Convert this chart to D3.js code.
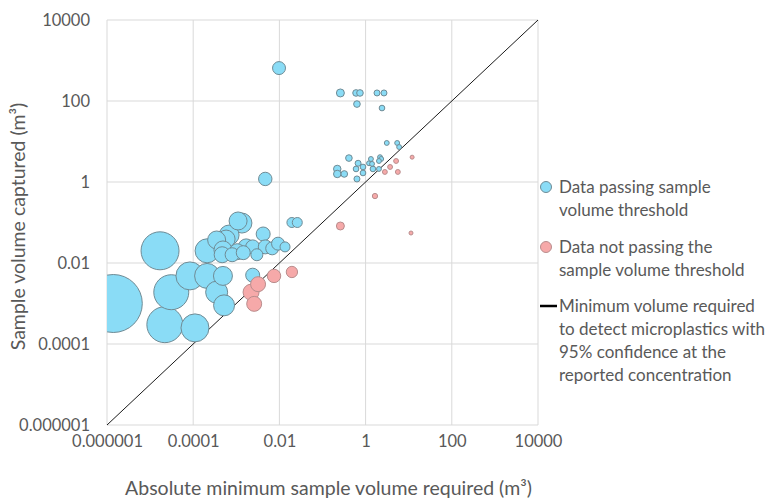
<!DOCTYPE html>
<html>
<head>
<meta charset="utf-8">
<script src="https://cdn.jsdelivr.net/npm/d3@7"></script>
<style>
  body { margin: 0; background: #fff; }
  text { font-family: Lato, "Open Sans", sans-serif; fill: #595959; }
</style>
</head>
<body>
<svg width="767" height="500"></svg>
<script>
// axis ticks (both axes share the same log range)
const tickValues = [1e-6, 1e-4, 1e-2, 1, 100, 1e4];
const tickLabels = ["0.000001", "0.0001", "0.01", "1", "100", "10000"];

// data passing the sample volume threshold
const passRequired = [1.4e-6, 1.7e-5, 3.1e-5, 2.2e-5, 1.1e-4, 8.4e-5, 2.1e-4, 2.1e-4, 4.9e-4, 3.5e-4,
    5.2e-4, 0.0024, 0.00135, 0.0011, 0.00068, 0.00058, 0.00035, 0.00049, 0.0017, 0.00105,
    0.0024, 0.0042, 0.0047, 0.003, 0.0068, 0.0093, 0.0135, 0.0008, 0.00145, 0.00047,
    0.0195, 0.026, 0.0047, 0.0098, 0.26, 0.6, 0.74, 1.84, 2.67, 0.63,
    2.4, 3.1, 5.4, 6, 0.41, 0.22, 0.22, 0.32, 0.63, 0.67,
    0.6, 0.87, 0.87, 1.2, 1.33, 1.41, 1.48, 2.04, 2.16, 2.3, 2.04];
const passCaptured = [0.001, 0.02, 0.0019, 0.0003, 0.00025, 0.0048, 0.0048, 0.02, 0.0048, 0.0019,
    0.0009, 0.005, 0.097, 0.109, 0.049, 0.039, 0.037, 0.021, 0.025, 0.019,
    0.025, 0.052, 0.025, 0.016, 0.023, 0.03, 0.025, 0.016, 0.018, 0.016,
    0.1, 0.1, 1.19, 650, 158, 158, 158, 158, 158, 84,
    67, 9.2, 9.2, 7.3, 3.9, 2.1, 1.58, 1.58, 1.19, 2.9,
    2.1, 2.35, 1.67, 2.9, 3.7, 2.8, 2.1, 2.1, 4.1, 3.7, 3.3];
const passSize = [841, 361, 306, 324, 196, 196, 156, 144, 90, 121,
    110, 49, 100, 81, 100, 81, 81, 81, 64, 64,
    49, 49, 49, 36, 42, 42, 25, 49, 49, 64,
    25, 25, 45, 42, 16, 11, 11, 9, 9, 11,
    8, 6, 6, 6, 11, 14, 14, 11, 9, 9,
    8, 8, 8, 6, 6, 6, 8, 6, 6, 6, 6];

// data not passing the threshold
const failRequired = [0.0032, 0.0022, 0.0026, 0.0075, 0.0195, 0.26, 1.65, 2.8, 3.7, 5.1, 5.6, 12, 11.3];
const failCaptured = [0.003, 0.0019, 0.00098, 0.0048, 0.006, 0.082, 0.45, 1.77, 2.35, 3.3, 1.77, 4.1, 0.055];
const failSize = [56, 64, 56, 45, 32, 16, 7, 6, 6, 6, 6, 4, 4];

const legendLabels = [
    ["Data passing sample", "volume threshold"],
    ["Data not passing the", "sample volume threshold"],
    ["Minimum volume required", "to detect microplastics with", "95% confidence at the", "reported concentration"]
];

let plotLeft = 107, plotRight = 538, plotTop = 20, plotBottom = 425;

var svg = d3.select('svg');

let x = d3.scaleLog().domain([1e-6, 1e4]).range([plotLeft, plotRight]);
let y = d3.scaleLog().domain([1e-6, 1e4]).range([plotBottom, plotTop]);
let r = d3.scaleSqrt().domain([0, 841]).range([0, 29]);

svg.append('defs').append('clipPath')
    .attr('id', 'plotClip')
    .append('rect')
    .attr('x', plotLeft)
    .attr('y', plotTop)
    .attr('width', plotRight - plotLeft)
    .attr('height', plotBottom - plotTop);

// gridlines
svg.append('g').selectAll('line')
    .data(tickValues)
    .enter()
    .append('line')
    .attr('x1', d => x(d)).attr('x2', d => x(d))
    .attr('y1', plotTop).attr('y2', plotBottom)
    .attr('stroke', '#d9d9d9');
svg.append('g').selectAll('line')
    .data(tickValues)
    .enter()
    .append('line')
    .attr('x1', plotLeft).attr('x2', plotRight)
    .attr('y1', d => y(d)).attr('y2', d => y(d))
    .attr('stroke', '#d9d9d9');

// axes (labels only, Excel style)
let xAxis = svg.append('g')
    .attr('transform', `translate(0, ${plotBottom})`)
    .call(d3.axisBottom(x).tickValues(tickValues).tickFormat((d, i) => tickLabels[i]).tickSize(0).tickPadding(10));
let yAxis = svg.append('g')
    .attr('transform', `translate(${plotLeft}, 0)`)
    .call(d3.axisLeft(y).tickValues(tickValues).tickFormat((d, i) => tickLabels[i]).tickSize(0).tickPadding(17));
[xAxis, yAxis].forEach(a => {
    a.select('.domain').remove();
    a.selectAll('text').attr('font-size', 16.5).attr('font-family', 'Lato').attr('fill', '#595959');
});

// 1:1 line
svg.append('line')
    .attr('x1', x(1e-6)).attr('y1', y(1e-6))
    .attr('x2', x(1e4)).attr('y2', y(1e4))
    .attr('stroke', '#1a1a1a')
    .attr('stroke-width', 1);

function bubbles(req, cap, size, fill, stroke) {
    let pts = req.map((d, i) => ({x: d, y: cap[i], s: size[i]}))
        .sort((a, b) => b.s - a.s);
    svg.append('g')
        .attr('clip-path', 'url(#plotClip)')
        .selectAll('circle')
        .data(pts)
        .enter()
        .append('circle')
        .attr('cx', d => x(d.x))
        .attr('cy', d => y(d.y))
        .attr('r', d => r(d.s))
        .attr('fill', fill)
        .attr('stroke', stroke)
        .attr('stroke-width', 1);
}
bubbles(passRequired, passCaptured, passSize, '#8adcf6', '#6f8b95');
bubbles(failRequired, failCaptured, failSize, '#f6a9a9', '#b98d8d');

// axis titles
svg.append('text')
    .attr('x', (plotLeft + plotRight) / 2 + 6)
    .attr('y', 495)
    .attr('text-anchor', 'middle')
    .attr('font-size', 19.5)
    .text('Absolute minimum sample volume required (m³)');
svg.append('text')
    .attr('transform', `translate(25, ${(plotTop + plotBottom) / 2 + 4}) rotate(-90)`)
    .attr('text-anchor', 'middle')
    .attr('font-size', 19.5)
    .text('Sample volume captured (m³)');

// legend
let legend = svg.append('g');
let legendTop = [187, 247, 306];
legend.append('circle').attr('cx', 546).attr('cy', legendTop[0]).attr('r', 5.5)
    .attr('fill', '#8adcf6').attr('stroke', '#6f8b95');
legend.append('circle').attr('cx', 546).attr('cy', legendTop[1]).attr('r', 5.5)
    .attr('fill', '#f6a9a9').attr('stroke', '#b98d8d');
legend.append('line').attr('x1', 540).attr('x2', 557)
    .attr('y1', legendTop[2]).attr('y2', legendTop[2])
    .attr('stroke', '#000').attr('stroke-width', 2.5);
legendLabels.forEach((lines, k) => {
    lines.forEach((t, j) => {
        legend.append('text')
            .attr('x', 559)
            .attr('y', legendTop[k] + j * 23)
            .attr('dy', '0.35em')
            .attr('font-size', 17)
            .attr('fill', '#404040')
            .text(t);
    });
});
</script>
</body>
</html>
